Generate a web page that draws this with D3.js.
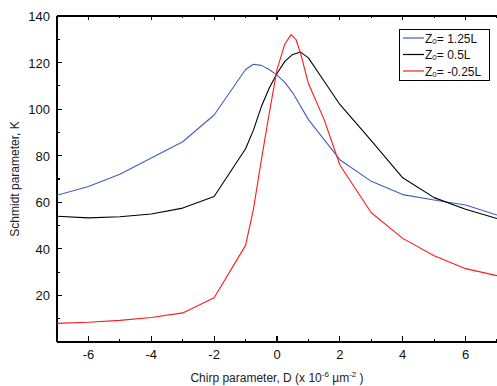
<!doctype html>
<html lang="en">
<head>
<meta charset="utf-8">
<script src="https://cdnjs.cloudflare.com/ajax/libs/d3/7.8.5/d3.min.js"></script>
<style>
  body { margin: 0; background: #fff; }
  svg { display: block; font-family: "Liberation Sans", Arial, sans-serif; }
</style>
</head>
<body>
<div id="chart"></div>
<script>
// chirp parameter D values and Schmidt parameter K for each Z0
var blueX  = [-7, -6, -5, -4, -3, -2, -1, -0.75, -0.5, -0.25, 0, 0.25, 0.5, 1, 2, 3, 4, 5, 6, 7];
var blueY  = [63, 66.8, 72, 79, 86, 97.5, 117, 119.3, 118.8, 117, 114.6, 111.5, 107, 95.5, 78.3, 69, 63.3, 61, 58.8, 54.5];
var blackX = [-7, -6, -5, -4, -3, -2, -1, -0.75, -0.5, -0.25, 0, 0.25, 0.5, 0.75, 1, 1.5, 2, 3, 4, 5, 6, 7];
var blackY = [54, 53.3, 53.8, 55, 57.5, 62.5, 83, 91, 101, 109, 115.3, 120.5, 123.5, 124.5, 122, 112, 102, 86.5, 70.5, 62, 57, 53];
var redX   = [-7, -6, -5, -4, -3, -2, -1, -0.75, -0.5, -0.25, 0, 0.25, 0.45, 0.6, 0.75, 1, 1.5, 2, 3, 4, 5, 6, 7];
var redY   = [8, 8.5, 9.3, 10.5, 12.5, 19, 41.5, 57, 78, 98, 117, 128, 132, 130, 124, 111, 95.5, 76, 55.5, 44.5, 37, 31.5, 28.5];
var seriesNames = ["1.25L", "0.5L", "-0.25L"];
var colors = ["#3f5fbf", "#000000", "#ff1a1a"];
var xTicks = [-6, -4, -2, 0, 2, 4, 6];
var yTicks = [20, 40, 60, 80, 100, 120, 140];

var W = 497, H = 386;
var margin = {left: 57, top: 16, right: 0, bottom: 44};

var svg = d3.select("#chart").append("svg")
    .attr("width", W).attr("height", H);

var x = d3.scaleLinear().domain([-7, 7]).range([margin.left, W - margin.right]);
var y = d3.scaleLinear().domain([0, 140]).range([H - margin.bottom, margin.top]);

var x0 = x.range()[0], x1 = x.range()[1], y0 = y.range()[0], y1 = y.range()[1];

// frame lines
var frame = svg.append("g").attr("stroke", "#000").attr("stroke-width", 1.2).attr("shape-rendering", "crispEdges");
frame.append("line").attr("x1", x0).attr("x2", x1).attr("y1", y0).attr("y2", y0);
frame.append("line").attr("x1", x0).attr("x2", x1).attr("y1", y1).attr("y2", y1);
frame.append("line").attr("x1", x0).attr("x2", x0).attr("y1", y0).attr("y2", y1);

// bottom ticks (inward), major on even, minor on odd
var xAll = d3.range(-7, 8);
frame.selectAll(".xt").data(xAll).enter().append("line")
    .attr("x1", d => x(d)).attr("x2", d => x(d))
    .attr("y1", y0).attr("y2", d => y0 - (d % 2 === 0 ? 6 : 3));
// top ticks (inward)
frame.selectAll(".xtt").data(xAll).enter().append("line")
    .attr("x1", d => x(d)).attr("x2", d => x(d))
    .attr("y1", y1).attr("y2", d => y1 + (d % 2 === 0 ? 4 : 2));
// left ticks (inward)
var yAll = d3.range(10, 141, 10);
frame.selectAll(".yt").data(yAll).enter().append("line")
    .attr("y1", d => y(d)).attr("y2", d => y(d))
    .attr("x1", x0).attr("x2", d => x0 + (d % 20 === 0 ? 5 : 3));

// tick labels
svg.selectAll(".xl").data(xTicks).enter().append("text")
    .attr("x", d => x(d)).attr("y", y0 + 17)
    .attr("text-anchor", "middle").attr("font-size", 13).attr("fill", "#111")
    .text(d => d);
svg.selectAll(".yl").data(yTicks).enter().append("text")
    .attr("x", x0 - 7).attr("y", d => y(d) + 5)
    .attr("text-anchor", "end").attr("font-size", 13).attr("fill", "#111")
    .text(d => d);

// axis titles
var xt = svg.append("text").attr("x", 277).attr("y", 382)
    .attr("text-anchor", "middle").attr("font-size", 12).attr("fill", "#222");
xt.append("tspan").text("Chirp parameter, D (x 10");
xt.append("tspan").attr("dy", -5).attr("font-size", 8).text("-6");
xt.append("tspan").attr("dy", 5).text(" \u00b5m");
xt.append("tspan").attr("dy", -5).attr("font-size", 8).text("-2");
xt.append("tspan").attr("dy", 5).text(" )");

svg.append("text")
    .attr("transform", "translate(19," + ((y0 + y1) / 2) + ") rotate(-90)")
    .attr("text-anchor", "middle").attr("font-size", 12).attr("fill", "#222")
    .text("Schmidt parameter, K");

// lines
var series = [
  {xs: blueX, ys: blueY},
  {xs: blackX, ys: blackY},
  {xs: redX, ys: redY}
];
var line = d3.line().x(d => x(d[0])).y(d => y(d[1]));
svg.append("defs").append("clipPath").attr("id", "clip")
  .append("rect").attr("x", x0).attr("y", y1).attr("width", x1 - x0).attr("height", y0 - y1);
series.forEach(function (s, i) {
  svg.append("path")
    .datum(d3.zip(s.xs, s.ys))
    .attr("clip-path", "url(#clip)")
    .attr("fill", "none")
    .attr("stroke", colors[i])
    .attr("stroke-width", 1.1)
    .attr("stroke-linejoin", "round")
    .attr("d", line);
});

// legend
var lg = svg.append("g");
lg.append("rect").attr("x", 399.5).attr("y", 29.5).attr("width", 90).attr("height", 51)
  .attr("fill", "#fff").attr("stroke", "#000").attr("stroke-width", 1);
seriesNames.forEach(function (n, i) {
  var ly = 38 + i * 16.5;
  lg.append("line").attr("x1", 403).attr("x2", 424).attr("y1", ly).attr("y2", ly)
    .attr("stroke", colors[i]).attr("stroke-width", 1.2);
  var t = lg.append("text").attr("x", 425).attr("y", ly + 4.5).attr("font-size", 12).attr("fill", "#111");
  t.append("tspan").text("Z");
  t.append("tspan").attr("font-size", 8).attr("dy", 1).text("0");
  t.append("tspan").attr("dy", -1).text("= " + n);
});
</script>
</body>
</html>
